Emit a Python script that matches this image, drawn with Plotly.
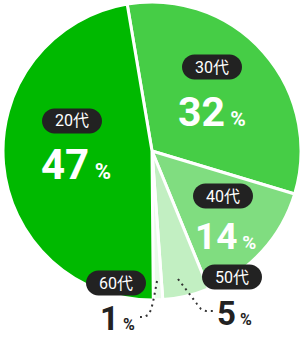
import plotly.graph_objects as go

# ---- data ----
labels = ["30代", "40代", "50代", "60代", "20代"]
values = [32, 14, 5, 1, 47]
pct_text = ["32", "14", "5", "1", "47"]
colors = ["#46CD46", "#80DD80", "#C2EFC2", "#EAFBEA", "#00B900"]

W, H = 304, 338


def px(x):
    return x / W


def py(y):
    return 1 - y / H


# ---- layout settings (pixel positions of label groups) ----
pill_pos = {"30代": (212, 67), "40代": (223, 196), "50代": (232, 277),
            "60代": (116, 283), "20代": (72, 121)}
num_pos = {"30代": (212, 112, "white", 41, 21), "40代": (225, 236, "white", 37, 19),
           "50代": (234, 313, "#222222", 33, 16), "60代": (117, 318, "#222222", 33, 16),
           "20代": (76, 164, "white", 42, 22)}
pill_w, pill_h = 60, 25

fig = go.Figure()
fig.add_trace(go.Pie(
    labels=labels, values=values, sort=False, direction="clockwise",
    rotation=-9.6,
    marker=dict(colors=colors, line=dict(color="white", width=3)),
    textinfo="none", hoverinfo="label+percent", showlegend=False,
    domain=dict(x=[3 / W, 301 / W], y=[38 / H, 336 / H]),
))


def pill_path(cx, cy, w, h):
    r = h / 2
    k = 0.5523 * r
    x0, x1 = cx - w / 2 + r, cx + w / 2 - r
    y0, y1 = cy - r, cy + r
    pts = [
        ("M", [(x0, y0)]),
        ("L", [(x1, y0)]),
        ("C", [(x1 + k, y0), (x1 + r, cy - k), (x1 + r, cy)]),
        ("C", [(x1 + r, cy + k), (x1 + k, y1), (x1, y1)]),
        ("L", [(x0, y1)]),
        ("C", [(x0 - k, y1), (x0 - r, cy + k), (x0 - r, cy)]),
        ("C", [(x0 - r, cy - k), (x0 - k, y0), (x0, y0)]),
    ]
    s = ""
    for cmd, ps in pts:
        s += cmd + " " + " ".join(f"{px(a):.5f},{py(b):.5f}" for a, b in ps) + " "
    return s + "Z"


shapes = []
annotations = []
for lab in labels:
    cx, cy = pill_pos[lab]
    shapes.append(dict(type="path", xref="paper", yref="paper",
                       path=pill_path(cx, cy, pill_w, pill_h),
                       fillcolor="#222222", line=dict(width=0), layer="above"))
    annotations.append(dict(x=px(cx), y=py(cy), xref="paper", yref="paper",
                            text=lab, showarrow=False, xanchor="center", yanchor="middle",
                            font=dict(family="Roboto, Noto Sans CJK JP", size=16, color="white")))
for lab, t in zip(labels, pct_text):
    nx, ny, col, big, small = num_pos[lab]
    annotations.append(dict(
        x=px(nx), y=py(ny), xref="paper", yref="paper", showarrow=False,
        xanchor="center", yanchor="middle",
        text=f"<b>{t}</b><span style='font-size:{small}px'><b> %</b></span>",
        font=dict(family="Roboto", size=big, color=col)))


def line_path(pts):
    s = "M " + f"{px(pts[0][0]):.5f},{py(pts[0][1]):.5f}"
    for a, b in pts[1:]:
        s += " L " + f"{px(a):.5f},{py(b):.5f}"
    return s


leaders = [
    [(157, 281), (155, 292), (153, 302), (151, 310), (148, 315), (144, 317), (140, 317)],
    [(178, 279), (188, 292), (197, 304), (201, 309), (206, 311), (216, 311)],
]
for pts in leaders:
    shapes.append(dict(type="path", xref="paper", yref="paper", path=line_path(pts),
                       line=dict(color="#333333", width=2, dash="2px,4px"), layer="above"))

fig.update_layout(
    width=W, height=H, margin=dict(l=0, r=0, t=0, b=0),
    paper_bgcolor="white", plot_bgcolor="white",
    shapes=shapes, annotations=annotations,
)
fig.write_html("out.html")
